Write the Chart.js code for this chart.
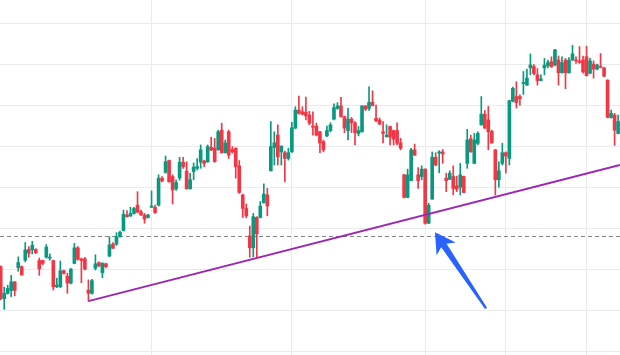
<!DOCTYPE html>
<html><head><meta charset="utf-8">
<script src="https://cdn.jsdelivr.net/npm/chart.js@4.4.1/dist/chart.umd.min.js"></script>
<style>html,body{margin:0;padding:0;background:#fff;overflow:hidden}#wrap{width:620px;height:355px;position:relative}</style>
</head><body><div id="wrap"><canvas id="c" width="620" height="355"></canvas></div>
<script>
// OHLC per session (index 0..176)
const open = [
120.8,113.0,114.3,115.0,117.1,120.6,120.8,122.4,125.0,124.9,
125.0,122.3,122.3,123.1,122.9,122.3,115.9,115.9,119.8,118.5,
116.8,121.6,125.4,122.7,122.7,115.1,114.3,120.4,121.8,119.3,
121.5,123.4,126.3,126.3,128.1,129.6,133.4,133.2,133.8,135.8,
134.2,133.4,132.8,135.3,135.3,135.8,142.4,143.8,146.7,142.8,
139.8,142.4,146.3,144.1,139.8,144.0,144.8,146.3,146.6,146.4,
149.9,149.7,149.3,154.1,148.6,153.7,149.4,149.7,145.4,138.3,
135.0,128.3,125.4,132.8,132.8,136.4,138.3,144.2,149.9,152.9,
148.8,148.6,147.2,148.8,154.6,159.0,158.6,158.5,157.8,155.1,
155.1,153.7,151.3,152.7,154.0,156.8,159.4,160.0,157.4,154.0,
156.8,155.9,153.3,153.7,160.0,159.4,160.9,157.0,156.6,153.7,
152.5,155.0,154.0,154.0,151.0,143.2,137.7,141.8,149.3,143.2,
142.8,144.6,131.4,137.3,147.5,148.5,148.8,142.4,142.1,142.8,
140.5,140.2,142.8,146.0,152.0,146.0,150.9,155.4,158.0,156.6,
153.8,149.3,142.0,146.0,148.6,147.2,161.2,162.3,162.3,165.5,
165.1,169.3,169.6,167.6,166.2,169.3,169.8,170.8,170.0,171.2,
168.1,171.2,168.1,171.2,171.2,171.0,171.2,172.0,168.0,170.2,
169.0,169.6,169.3,166.3,157.2,157.8,153.3];
const high = [
121.0,115.8,116.3,118.7,117.2,123.2,121.0,126.7,125.7,127.0,
125.2,122.9,122.4,126.2,123.9,122.4,118.0,122.2,120.0,119.2,
120.4,126.5,125.7,122.9,123.1,117.6,117.7,123.7,122.0,121.8,
121.7,128.1,126.7,129.1,129.5,134.6,134.5,135.3,135.3,139.1,
134.6,133.8,133.6,139.3,135.8,143.2,142.8,147.8,146.8,143.2,
142.0,147.5,147.5,146.4,143.6,146.1,147.2,150.5,146.8,150.5,
152.4,152.1,154.1,155.8,151.7,154.1,150.1,149.8,146.7,138.5,
136.1,130.7,133.8,133.0,136.7,141.0,139.9,156.2,153.7,155.4,
150.3,149.0,149.7,156.0,159.8,162.4,159.8,162.2,158.7,158.6,
155.8,153.8,151.7,155.1,155.9,160.5,160.8,162.1,157.5,159.4,
157.2,156.2,155.0,160.1,160.1,164.7,163.7,160.2,157.1,156.2,
155.4,155.1,154.1,155.9,152.1,143.3,144.6,149.7,150.7,145.0,
145.4,144.7,136.3,148.8,148.6,149.1,149.4,143.6,144.2,145.4,
142.9,146.0,142.9,154.3,152.9,153.3,153.7,162.3,158.9,159.9,
154.1,149.4,146.4,150.9,148.8,161.4,164.6,165.9,162.7,168.4,
169.0,172.7,170.1,169.1,167.6,171.6,171.2,172.0,173.8,172.2,
172.0,171.6,171.8,174.8,172.0,174.5,172.2,174.6,171.6,171.0,
170.2,172.8,169.4,166.4,159.0,158.2,157.8];
const low = [
112.7,110.4,114.1,113.5,113.7,119.7,118.7,122.0,123.1,123.9,
124.0,118.7,121.3,122.9,122.4,115.1,115.7,115.7,119.0,114.3,
116.6,121.5,122.4,116.9,120.0,112.4,114.1,120.0,120.8,118.1,
120.5,123.2,125.2,126.0,128.0,129.5,132.9,133.0,133.6,133.9,
133.3,131.4,132.7,135.2,133.8,135.6,141.5,143.6,141.4,136.1,
139.4,141.9,144.8,139.7,139.7,142.0,144.4,144.8,145.2,146.2,
149.1,146.3,149.2,148.5,148.5,147.2,148.5,142.4,138.7,132.8,
132.7,123.1,123.2,123.2,132.7,136.3,133.2,144.1,145.6,145.6,
145.6,141.5,146.8,148.7,154.5,158.0,157.8,156.6,155.4,152.9,
152.7,148.6,148.8,152.5,153.7,156.6,159.2,157.3,153.5,151.7,
153.5,150.5,152.7,153.6,158.9,158.9,160.0,156.2,155.4,151.0,
152.4,150.5,150.5,150.5,149.3,137.6,137.6,141.7,147.9,139.9,
142.0,131.2,131.3,137.2,145.4,143.7,146.0,139.1,142.0,138.3,
139.1,138.3,138.8,144.8,148.7,145.9,150.5,155.3,154.5,149.3,
150.9,138.3,140.2,145.6,143.7,145.6,161.0,159.5,160.2,162.8,
165.0,167.6,167.6,165.1,166.1,167.6,169.3,169.4,169.8,165.1,
168.0,164.2,168.0,171.1,170.4,170.4,168.0,167.3,167.8,166.8,
168.8,169.3,167.1,157.1,157.0,150.4,153.2];
const close = [
113.0,114.3,115.5,117.1,115.0,121.8,118.8,124.9,124.1,126.0,
124.2,120.3,121.6,125.6,123.1,115.9,116.3,119.8,119.2,116.8,
120.2,125.4,122.6,122.3,120.2,114.3,117.4,121.5,121.0,121.6,
120.8,126.1,125.3,128.1,129.2,133.6,133.0,133.8,135.0,134.1,
133.4,132.4,133.4,135.6,134.0,142.4,141.7,146.4,141.5,139.5,
141.3,146.3,145.2,139.8,142.0,145.1,145.2,149.3,146.0,150.1,
149.3,146.4,153.7,148.6,151.0,148.0,148.8,145.2,138.9,135.0,
133.2,125.4,133.0,128.8,135.6,138.5,135.6,150.1,151.0,147.6,
150.2,147.2,148.6,154.7,159.0,158.2,158.0,157.6,155.8,154.8,
152.9,151.0,149.3,154.0,155.4,159.6,160.0,157.4,154.6,156.8,
155.9,153.5,154.0,160.0,159.2,160.9,160.1,156.4,155.6,153.3,
152.9,152.4,151.9,150.9,149.7,137.7,143.2,149.3,148.0,141.8,
144.6,131.4,135.8,147.5,145.6,148.8,148.3,141.8,143.6,139.9,
139.7,143.2,138.9,151.7,148.8,151.7,153.3,158.0,154.6,153.7,
151.0,142.0,144.2,148.6,147.8,161.3,164.3,160.8,161.8,165.7,
166.8,170.0,167.9,166.2,166.6,170.0,170.6,169.6,173.7,168.1,
170.6,168.1,171.2,172.7,171.0,170.6,168.3,167.4,171.0,169.0,
170.0,169.4,167.3,157.2,158.2,154.1,156.2];

// axis / annotation values
const timeGridIdx = [43, 83, 121, 144, 167];
const priceGrid = [100, 110, 120, 130, 140, 150, 160, 170, 180];
const xRange = [-0.2, 176.54];
const yRange = [99.26, 185.85];
const supportLevel = 128.17;
const trendStart = {x: 25, y: 112.4};
const trendEnd = {x: 176.54, y: 145.6};
const arrowTip = {x: 123.8, y: 129.2};
const arrowTail = {x: 138.3, y: 110.7};

const UP = '#089981', DOWN = '#f23645';
const colors = open.map((o, i) => close[i] >= o ? UP : DOWN);
const idx = open.map((_, i) => i);

const arrowPlugin = {
  id: 'arrow',
  afterDatasetsDraw(chart) {
    const {ctx, scales: {x, y}} = chart;
    const tx = x.getPixelForValue(arrowTip.x), ty = y.getPixelForValue(arrowTip.y);
    const bx = x.getPixelForValue(arrowTail.x), by = y.getPixelForValue(arrowTail.y);
    const dx = bx - tx, dy = by - ty, len = Math.hypot(dx, dy);
    const ux = dx / len, uy = dy / len, nx = -uy, ny = ux;
    const headLen = 20, headHalf = 11.5, notch = 16, shaftBase = 3.2, shaftTail = 1.2;
    const P = (a, c) => [tx + ux * a + nx * c, ty + uy * a + ny * c];
    const pts = [P(0, 0), P(headLen, headHalf), P(notch, shaftBase), P(len, shaftTail),
                 P(len + 0.8, 0), P(len, -shaftTail), P(notch, -shaftBase), P(headLen, -headHalf)];
    ctx.save();
    ctx.fillStyle = '#2962ff';
    ctx.beginPath();
    pts.forEach(([px, py], k) => k ? ctx.lineTo(px, py) : ctx.moveTo(px, py));
    ctx.closePath();
    ctx.fill();
    ctx.restore();
  }
};

new Chart(document.getElementById('c'), {
  type: 'bar',
  data: {
    datasets: [
      {
        type: 'line', order: 0,
        data: [trendStart, trendEnd],
        borderColor: '#9c27b0', borderWidth: 2, pointRadius: 0, fill: false
      },
      {
        order: 1, grouped: false,
        data: idx.map(i => ({x: i, y: [open[i], close[i]]})),
        backgroundColor: colors, borderWidth: 0,
        barThickness: 3, minBarLength: 1
      },
      {
        order: 2, grouped: false,
        data: idx.map(i => ({x: i, y: [low[i], high[i]]})),
        backgroundColor: colors, borderWidth: 0,
        barThickness: 1
      },
      {
        type: 'line', order: 3,
        data: [{x: xRange[0], y: supportLevel}, {x: xRange[1], y: supportLevel}],
        borderColor: '#808389', borderWidth: 1, borderDash: [4, 3], pointRadius: 0, fill: false
      }
    ]
  },
  options: {
    responsive: false,
    animation: false,
    events: [],
    layout: {padding: 0},
    plugins: {legend: {display: false}, tooltip: {enabled: false}},
    scales: {
      x: {
        type: 'linear', min: xRange[0], max: xRange[1], offset: false,
        afterBuildTicks: s => { s.ticks = timeGridIdx.map(v => ({value: v})); },
        grid: {color: '#ebebeb', lineWidth: 1, drawTicks: false, offset: false},
        border: {display: false},
        ticks: {display: false}
      },
      y: {
        type: 'linear', min: yRange[0], max: yRange[1],
        afterBuildTicks: s => { s.ticks = priceGrid.map(v => ({value: v})); },
        grid: {color: '#ebebeb', lineWidth: 1, drawTicks: false},
        border: {display: false},
        ticks: {display: false}
      }
    }
  },
  plugins: [arrowPlugin]
});
</script>
</body></html>
